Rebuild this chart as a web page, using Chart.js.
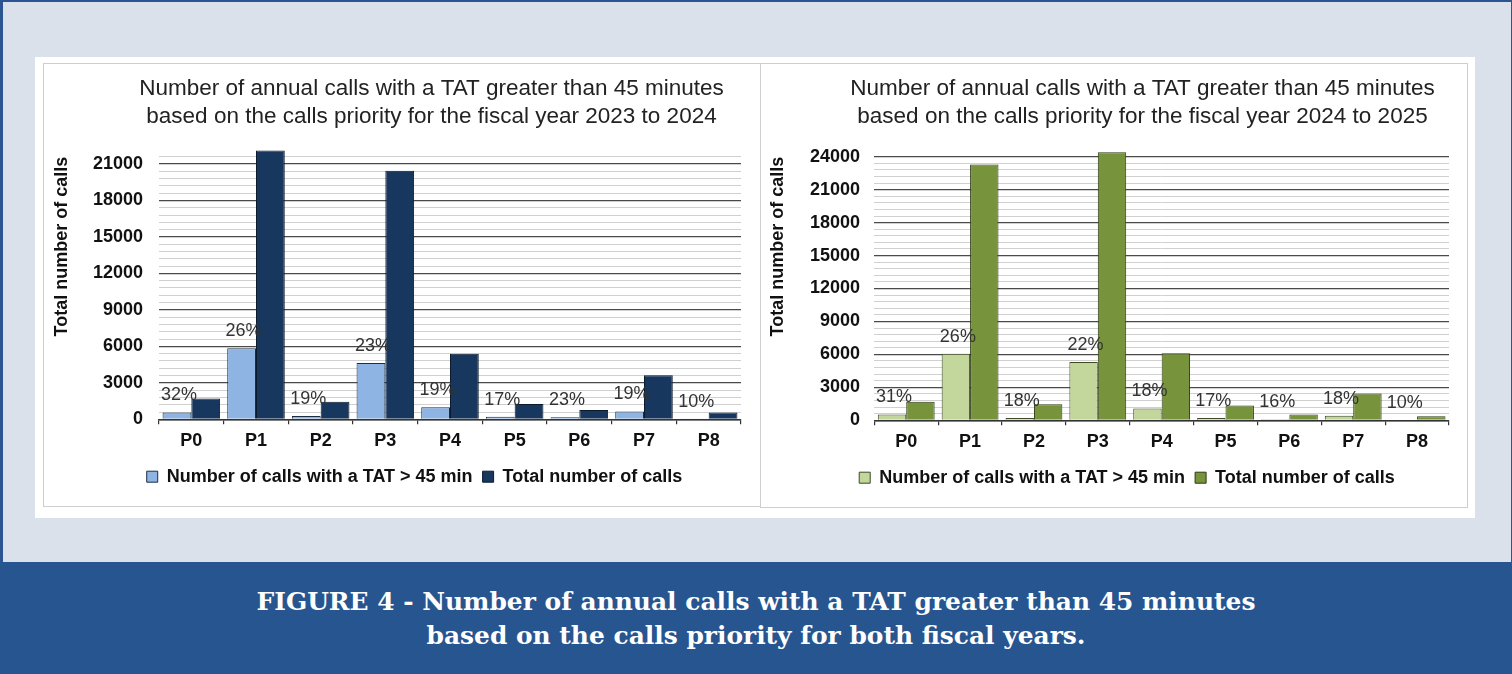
<!DOCTYPE html>
<html><head><meta charset="utf-8">
<script src="https://cdn.jsdelivr.net/npm/chart.js@4.4.1/dist/chart.umd.min.js"></script>
<style>
html,body{margin:0;padding:0;}
body{width:1512px;height:674px;position:relative;overflow:hidden;background:#2a5592;font-family:"Liberation Sans",Arial,sans-serif;}
#frame{position:absolute;left:3px;top:2px;width:1508px;height:560px;background:#dae1ea;}
#panel{position:absolute;left:35px;top:57px;width:1440px;height:461px;background:#fff;}
.box{position:absolute;border:1.5px solid #cfcfcf;box-sizing:border-box;}
#box1{left:43px;top:63px;width:718px;height:444px;}
#box2{left:760px;top:63px;width:708px;height:445px;}
canvas{position:absolute;}
#c1{left:43px;top:63px;}
#c2{left:762px;top:63px;}
#band{position:absolute;left:0;top:562px;width:1512px;height:112px;background:#27558f;}
#caption{position:absolute;left:0;width:1512px;top:585px;text-align:center;color:#fff;font-family:"DejaVu Serif","Liberation Serif",serif;font-weight:bold;line-height:34px;}
#caption span{white-space:nowrap;}
</style>
</head><body>
<div id="frame"></div>
<div id="panel"></div>
<div class="box" id="box1"></div>
<div class="box" id="box2"></div>
<canvas id="c1" width="717" height="443"></canvas>
<canvas id="c2" width="705" height="444"></canvas>
<div id="band"></div>
<div id="caption"><span id="cap1">FIGURE 4 - Number of annual calls with a TAT greater than 45 minutes</span><br><span id="cap2">based on the calls priority for both fiscal years.</span></div>
<script>
// ---- data ----
const categories = ['P0','P1','P2','P3','P4','P5','P6','P7','P8'];
const seriesLabels = ['Number of calls with a TAT > 45 min','Total number of calls'];
const yAxisTitle = 'Total number of calls';

const title2324 = ['Number of annual calls with a TAT greater than 45 minutes','based on the calls priority for the fiscal year 2023 to 2024'];
const tat2324 = [560, 5840, 270, 4640, 1000, 210, 175, 650, 60];
const total2324 = [1720, 22100, 1450, 20450, 5400, 1250, 760, 3630, 560];
const pct2324 = ['32%','26%','19%','23%','19%','17%','23%','19%','10%'];
const yMax2324 = 21600;

const title2425 = ['Number of annual calls with a TAT greater than 45 minutes','based on the calls priority for the fiscal year 2024 to 2025'];
const tat2425 = [530, 6050, 200, 5300, 1080, 200, 90, 420, 40];
const total2425 = [1680, 23300, 1460, 24400, 6100, 1350, 530, 2430, 380];
const pct2425 = ['31%','26%','18%','22%','18%','17%','16%','18%','10%'];
const yMax2425 = 24000;

const yMinorStep = 600;
const yLabelStep = 3000;

// ---- caption sizing ----
(function(){
  const c1 = document.getElementById('cap1');
  const cap = document.getElementById('caption');
  cap.style.fontSize = '24px';
  const w = c1.getBoundingClientRect().width;
  cap.style.fontSize = (24 * 999 / w).toFixed(2) + 'px';
})();

Chart.defaults.font.family = '"Liberation Sans", Arial, sans-serif';

const pctPlugin = {
  id: 'pct',
  afterLayout(chart, args, opts) {
    const t = chart.titleBlock;
    if (t && opts.titleShift) { t.left += opts.titleShift; t.right += opts.titleShift; }
  },
  afterDatasetsDraw(chart, args, opts) {
    const meta = chart.getDatasetMeta(0);
    const ctx = chart.ctx;
    ctx.save();
    ctx.font = '18px "Liberation Sans", Arial, sans-serif';
    ctx.fillStyle = '#333';
    ctx.textAlign = 'center';
    ctx.textBaseline = 'middle';
    meta.data.forEach((bar, i) => {
      ctx.fillText(opts.labels[i], bar.x + 2, bar.y - 17);
    });
    ctx.restore();
  }
};

function makeChart(id, g) {
  return new Chart(document.getElementById(id), {
    type: 'bar',
    data: {
      labels: categories,
      datasets: [
        {label: seriesLabels[0], data: g.tat, backgroundColor: g.c1, borderColor: g.b1, borderWidth: 1, clip: false,
         categoryPercentage: 0.89, barPercentage: 1.0},
        {label: seriesLabels[1], data: g.total, backgroundColor: g.c2, borderColor: g.b2, borderWidth: 1, clip: false,
         categoryPercentage: 0.89, barPercentage: 1.0}
      ]
    },
    options: {
      responsive: false,
      animation: false,
      devicePixelRatio: 1,
      layout: {padding: {left: g.padL, right: g.padR, top: 0, bottom: 10.3}},
      scales: {
        x: {
          grid: {display: true, drawOnChartArea: false, drawTicks: true, tickLength: 5, color: '#333', lineWidth: 1.2, offset: true},
          border: {display: true, color: '#333', width: 1.5},
          ticks: {font: {size: 18, weight: 'bold'}, color: '#111', padding: 5.6, maxRotation: 0, autoSkip: false},
          afterFit(s) { s.height = 38.4; }
        },
        y: {
          min: 0, max: g.max,
          grid: {
            color: c => (c.tick && c.tick.value % yLabelStep === 0) ? '#4a4a4a' : '#d0d0d0',
            lineWidth: c => (c.tick && c.tick.value % yLabelStep === 0) ? 1.3 : 1,
            drawTicks: false
          },
          border: {display: false},
          ticks: {stepSize: yMinorStep, autoSkip: false, padding: g.tickPad, font: {size: 18, weight: 'bold'}, color: '#111',
                  callback: v => (v % yLabelStep === 0) ? String(v) : ''},
          title: {display: true, text: yAxisTitle, align: 'end', color: '#111', font: {size: 18, weight: 'bold', lineHeight: 1.2},
                  padding: {top: g.yTitlePad, bottom: 0}},
          afterFit(s) { s.width = g.yW; }
        }
      },
      plugins: {
        legend: {position: 'bottom', labels: {boxWidth: 11, boxHeight: 11, padding: 10, color: '#111', font: {size: 18, weight: 'bold'}}},
        title: {display: true, text: g.title, color: '#222', font: {size: 22.5, weight: 'normal', lineHeight: 1.222},
                padding: {top: 12.25, bottom: 26.45}},
        tooltip: {enabled: false},
        pct: {labels: g.pct, titleShift: g.titleShift}
      }
    },
    plugins: [pctPlugin]
  });
}

makeChart('c1', {
  tat: tat2324, total: total2324, pct: pct2324, title: title2324, max: yMax2324,
  c1: '#8db4e2', b1: '#1f2d42', c2: '#17375e', b2: '#0c1a2c',
  padL: 45, padR: 19, yW: 71, tickPad: 16, yTitlePad: -36.8, titleShift: 17
});
makeChart('c2', {
  tat: tat2425, total: total2425, pct: pct2425, title: title2425, max: yMax2425,
  c1: '#c3d69b', b1: '#3b4a24', c2: '#77933c', b2: '#2b3a14',
  padL: 43, padR: 18, yW: 69.3, tickPad: 14.3, yTitlePad: -37.8, titleShift: 15.5
});
</script>
</body></html>
